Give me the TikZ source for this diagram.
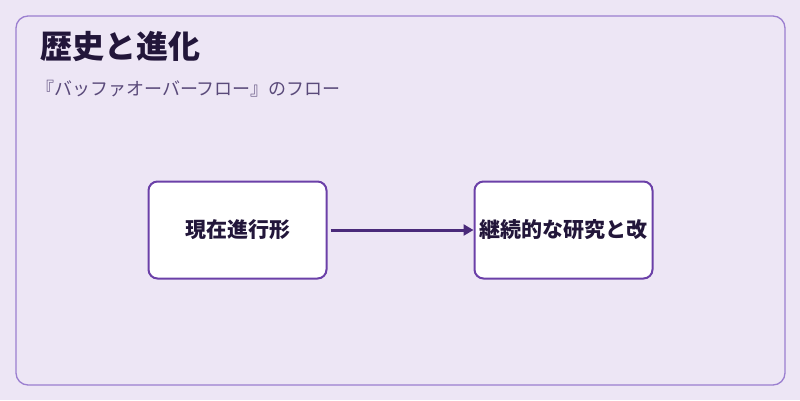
\documentclass[tikz,border=0pt]{standalone}
\usepackage{fontspec}
\newfontfamily\cjk{Noto Sans CJK JP}
\definecolor{bg}{HTML}{EDE6F5}
\definecolor{frame}{HTML}{9B7FD0}
\definecolor{boxline}{HTML}{6B40A8}
\definecolor{arr}{HTML}{4A2A7A}
\definecolor{titlec}{HTML}{22163A}
\definecolor{subc}{HTML}{5A4A7A}
\usetikzlibrary{arrows.meta}
\tikzset{stepbox/.style={draw=boxline,line width=2pt,fill=white,rounded corners=9pt,minimum width=178pt,minimum height=97pt,inner sep=0pt,font=\cjk\bfseries\fontsize{21}{24}\selectfont,text=titlec}}
\begin{document}
\begin{tikzpicture}[x=1pt,y=-1pt]
\useasboundingbox (0,0) rectangle (800,400);
\fill[bg] (0,0) rectangle (800,400);
\draw[frame,line width=1.3pt,fill=bg,rounded corners=12pt] (16,16) rectangle (785,385);
\node[anchor=west,text=titlec,font=\cjk\bfseries\fontsize{32}{36}\selectfont,inner sep=0pt] (title) at (40,46) {歴史と進化};
\node[anchor=west,text=subc,font=\cjk\fontsize{18}{20}\selectfont,inner sep=0pt] (sub) at (36,89) {『バッファオーバーフロー』のフロー};
\node[stepbox] (a) at (237.5,230) {現在進行形};
\node[stepbox] (b) at (563.5,230) {継続的な研究と改};
\draw[arr,line width=3pt,-{Triangle[length=10pt,width=11pt]}] (a.east) ++(3,0) coordinate (s) -- (b.west);
\end{tikzpicture}
\end{document}
